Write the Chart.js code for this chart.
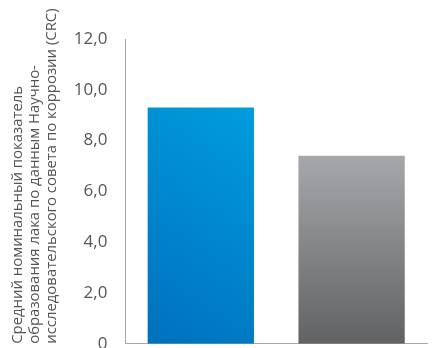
<!DOCTYPE html>
<html>
<head>
<meta charset="utf-8">
<script src="https://cdn.jsdelivr.net/npm/chart.js@4"></script>
<style>
  html, body { margin: 0; padding: 0; background: #fff; overflow: hidden; }
  #wrap { width: 433px; height: 364px; position: relative; }
</style>
</head>
<body>
<div id="wrap"><canvas id="crcChart"></canvas></div>
<script>
// данные графика
const categories = ['Продукт A', 'Продукт B'];
const crcValues = [9.3, 7.4];
const yTickLabels = ['0', '2,0', '4,0', '6,0', '8,0', '10,0', '12,0'];
const yTitle = [
  'Средний номинальный показатель',
  'образования лака по данным Научно-',
  'исследовательского совета по коррозии (CRC)'
];

// градиенты для столбцов
function barGradient(context) {
  const chart = context.chart;
  const area = chart.chartArea;
  if (!area) return '#888';
  const ctx = chart.ctx;
  if (context.dataIndex === 0) {
    const g = ctx.createLinearGradient(area.left, area.bottom, area.left + 200, area.top);
    g.addColorStop(0, '#006ebb');
    g.addColorStop(1, '#00ade9');
    return g;
  }
  const g = ctx.createLinearGradient(0, area.top + 115, 0, area.bottom);
  g.addColorStop(0, '#a7a8ab');
  g.addColorStop(1, '#616264');
  return g;
}

const chart = new Chart(document.getElementById('crcChart'), {
  type: 'bar',
  data: {
    labels: categories,
    datasets: [{
      data: crcValues,
      backgroundColor: barGradient,
      borderWidth: 0,
      barPercentage: 0.705,
      categoryPercentage: 1
    }]
  },
  options: {
    responsive: true,
    maintainAspectRatio: false,
    animation: false,
    layout: { padding: { left: 9, right: 6, top: 39, bottom: 0 } },
    plugins: { legend: { display: false }, tooltip: { enabled: false } },
    scales: {
      x: {
        grid: { display: false },
        ticks: { display: false },
        border: { color: '#a9a9a9', width: 1 }
      },
      y: {
        min: 0,
        max: 12,
        ticks: {
          stepSize: 2,
          padding: 10,
          color: '#555555',
          font: { family: 'Open Sans', size: 17 },
          callback: (v, i) => yTickLabels[i]
        },
        grid: { display: false },
        border: { color: '#a9a9a9', width: 1 },
        title: {
          display: true,
          text: yTitle,
          align: 'start',
          color: '#555555',
          font: { family: 'Open Sans', size: 14.9, lineHeight: 1.16 },
          padding: { top: 0, bottom: 3 }
        }
      }
    }
  }
});
</script>
</body>
</html>
